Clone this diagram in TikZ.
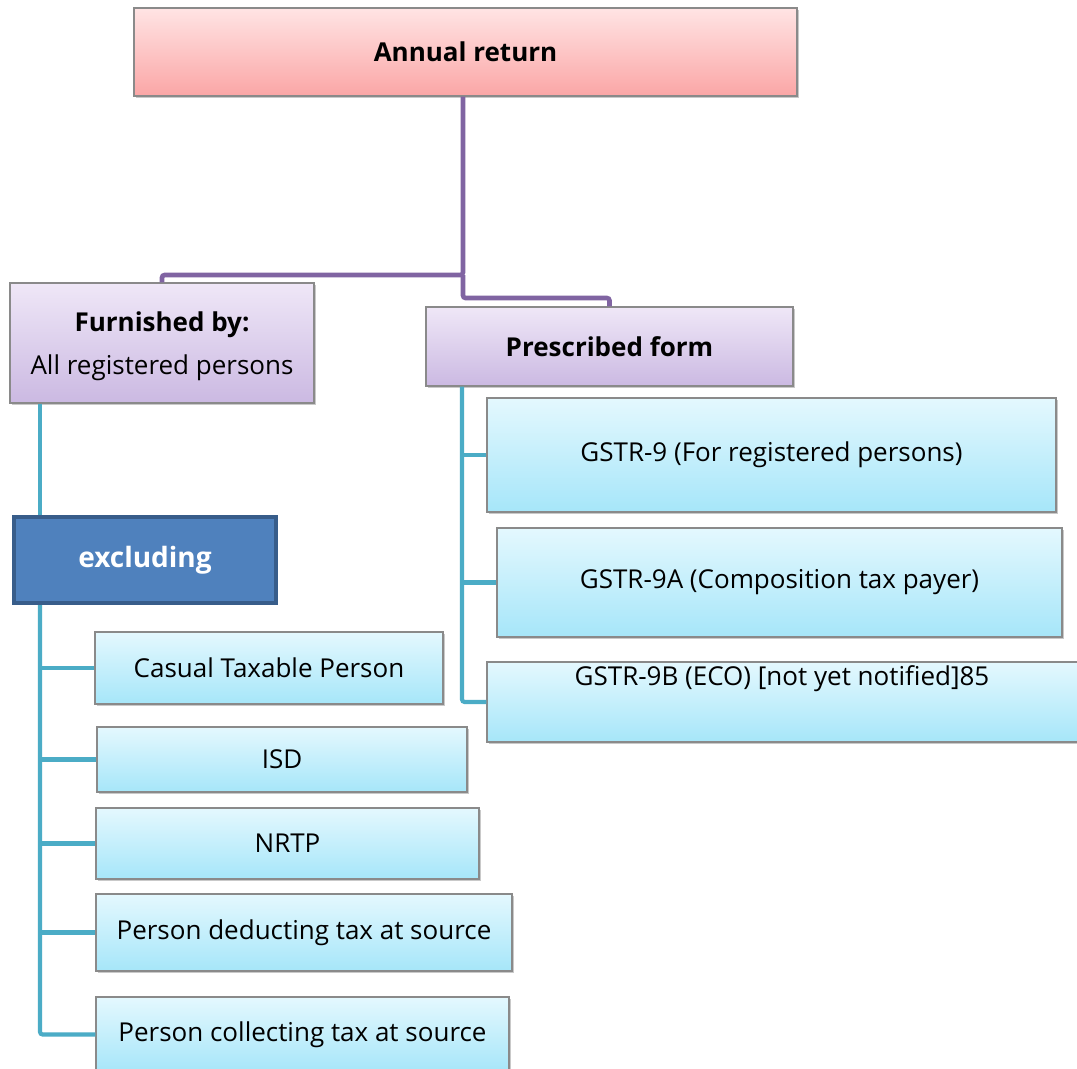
\documentclass[tikz,border=0pt]{standalone}
\usepackage{fontspec}
\setmainfont{Open Sans}
\usetikzlibrary{shadows}

\definecolor{pinkTop}{HTML}{FFE4E4}
\definecolor{pinkBot}{HTML}{FBA6A6}
\definecolor{lilacTop}{HTML}{EFE7F7}
\definecolor{lilacBot}{HTML}{CBB9E2}
\definecolor{skyTop}{HTML}{E4F8FE}
\definecolor{skyBot}{HTML}{A6E6F9}
\definecolor{boxEdge}{HTML}{8A8A8A}
\definecolor{plumLine}{HTML}{8064A2}
\definecolor{tealLine}{HTML}{4BACC6}
\definecolor{accentFill}{HTML}{4F81BD}
\definecolor{accentEdge}{HTML}{385D8A}

\tikzset{
  % box size given in pixels of the drawing grid (1 unit = 0.75pt)
  size/.style 2 args={minimum width=#1*0.75pt, minimum height=#2*0.75pt},
  box/.style={draw=boxEdge, line width=0.8pt, inner sep=0pt, align=center,
    font=\fontsize{19.5}{31.5}\selectfont,
    drop shadow={shadow xshift=1.6pt, shadow yshift=-1.6pt, opacity=0.35, fill=black!60}},
  pinkbox/.style={box, top color=pinkTop, bottom color=pinkBot},
  lilacbox/.style={box, top color=lilacTop, bottom color=lilacBot},
  skybox/.style={box, top color=skyTop, bottom color=skyBot},
  accentbox/.style={draw=accentEdge, line width=3pt, fill=accentFill, inner sep=0pt,
    text=white, font=\fontsize{21}{24}\selectfont\bfseries},
  boxtext/.style={inner sep=0pt, font=\fontsize{19.5}{24}\selectfont},
  plumlink/.style={draw=plumLine, line width=3.5pt, rounded corners=2pt},
  teallink/.style={draw=tealLine, line width=3.1pt, rounded corners=2pt},
}

\begin{document}
\begin{tikzpicture}[x=0.75pt,y=-0.75pt]
\useasboundingbox (0,0) rectangle (1077,1068);
\clip (0,0) rectangle (1077,1068);
\fill[white] (0,0) rectangle (1077,1068);

% top level
\node[pinkbox, size={663}{88}] (annual) at (465.5,52) {\bfseries Annual return};

% second level
\node[lilacbox, size={304}{120}] (furnished) at (162,343) {};
\node[boxtext, align=center, font=\fontsize{19.5}{32}\selectfont] (furnishedtext)
  at (162,346) {{\bfseries Furnished by:}\\All registered persons};
\node[lilacbox, size={367}{79}] (prescribed) at (609.5,346.5) {\bfseries Prescribed form};

% prescribed forms
\node[skybox, size={569}{114}] (g9) at (771.5,455) {GSTR-9 (For registered persons)};
\node[skybox, size={565}{109}] (g9a) at (779.5,582.5) {GSTR-9A (Composition tax payer)};
\node[skybox, size={605}{80}] (g9b) at (789.5,702) {};
\node[boxtext] (g9bt) at (782,679) {GSTR-9B (ECO) [not yet notified]85};

% exclusions
\node[accentbox, size={262}{86}] (excl) at (145,560) {excluding};
\node[skybox, size={348}{72}] (casual) at (269,668) {Casual Taxable Person};
\node[skybox, size={370}{65}] (isd) at (282,759.5) {ISD};
\node[skybox, size={383}{71}] (nrtp) at (287.5,843.5) {NRTP};
\node[skybox, size={416}{77}] (deduct) at (304,932.5) {Person deducting tax at source};
\node[skybox, size={413}{75}] (collect) at (302.5,1034.5) {Person collecting tax at source};

% purple connectors
\coordinate (split) at (463,275);
\coordinate (drop) at (463,298);
\draw[plumlink] (annual.south -| split) -- (split) -| (furnished.north);
\draw[plumlink] (split) -- (drop) -| (prescribed.north);

% teal connectors, right column
\coordinate (rtrunk) at (462,0);
\draw[teallink] (prescribed.south -| rtrunk) |- (g9b.west);
\draw[teallink] (rtrunk |- g9.west) -- (g9.west);
\draw[teallink] (rtrunk |- g9a.west) -- (g9a.west);

% teal connectors, left column
\coordinate (ltrunk) at (40,0);
\draw[teallink] (furnished.south -| ltrunk) -- (excl.north -| ltrunk);
\draw[teallink] (excl.south -| ltrunk) |- (collect.west);
\draw[teallink] (ltrunk |- casual.west) -- (casual.west);
\draw[teallink] (ltrunk |- isd.west) -- (isd.west);
\draw[teallink] (ltrunk |- nrtp.west) -- (nrtp.west);
\draw[teallink] (ltrunk |- deduct.west) -- (deduct.west);
\end{tikzpicture}
\end{document}
